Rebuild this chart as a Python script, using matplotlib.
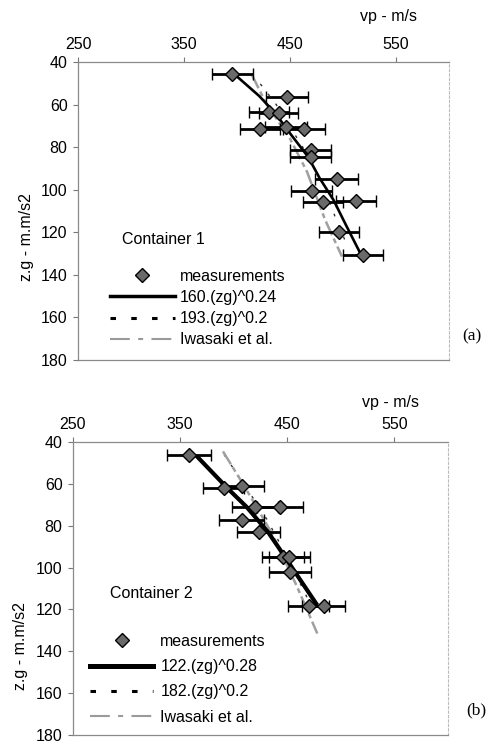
import matplotlib
matplotlib.use("Agg")
import matplotlib.pyplot as plt
from matplotlib.lines import Line2D

W, H = 489, 744

# ---------------- data: Container 1 ----------------
z_meas_1 = [45.6, 56.3, 63.5, 63.8, 71.5, 70.4, 71.5, 81.3, 84.5, 95.0, 100.4, 105.6, 105.1, 119.7, 130.6]
vp_meas_1 = [395.6, 446.9, 430.0, 439.5, 421.7, 446.5, 463.2, 469.5, 469.5, 494.0, 470.4, 481.4, 512.3, 496.5, 518.6]
err_meas_1 = [19.5, 20, 19, 18.5, 19, 20, 20, 19.5, 19.5, 20.5, 19.5, 19, 19, 19, 19]

z_fit_1 = [45.5, 56, 64, 73.5, 84.5, 94.6, 104.8, 117.3, 130.5]
vp_fit_1 = [397, 421, 436, 450, 467, 478, 491, 503.5, 517]

z_dash_1 = [46, 49, 60, 80, 95, 112.6, 127.5]
vp_dash_1 = [414, 420, 437, 462, 479, 492.5, 505]

z_iwa_1 = [46, 60, 76, 91.5, 114, 131.4]
vp_iwa_1 = [414, 428, 450, 466, 483, 499]

# ---------------- data: Container 2 ----------------
z_meas_2 = [46.3, 61.8, 61.0, 71.0, 71.0, 77.3, 83.0, 95.1, 94.9, 102.0, 118.2, 118.2]
vp_meas_2 = [358.7, 390.5, 408.0, 420.0, 443.2, 407.7, 423.2, 446.0, 452.0, 452.2, 469.9, 483.9]
err_meas_2 = [20.5, 19, 20, 21.5, 21.5, 21, 20, 20, 19.5, 19.5, 19, 20]

z_fit_2 = [46.5, 62, 71, 77, 83, 95, 102, 118]
vp_fit_2 = [365, 394, 412, 422, 432, 448, 457, 478]

z_dash_2 = [46, 62, 77, 95, 118]
vp_dash_2 = [391, 412, 431, 450, 472]

z_iwa_2 = [44.5, 62, 84, 109, 131.5]
vp_iwa_2 = [390, 411, 436, 459, 478]

x_ticks = [250, 350, 450, 550]
y_ticks = [40, 60, 80, 100, 120, 140, 160, 180]

panels = [
    dict(rect=[78, 62, 449, 360], z=z_meas_1, vp=vp_meas_1, err=err_meas_1,
         zf=z_fit_1, vf=vp_fit_1, zd=z_dash_1, vd=vp_dash_1, zi=z_iwa_1, vi=vp_iwa_1,
         labels=["measurements", "160.(zg)^0.24", "193.(zg)^0.2", "Iwasaki et al."],
         fitlw=1.9, cont="Container 1", cont_xy=(122, 239), tag="(a)", tag_xy=(472, 336),
         vp_xy=(388, 16), ylab_xy=(27, 237), leg_xy=(110, 269), hl=4.05, htp=0.33, ls=0.38),
    dict(rect=[73, 442, 448, 735], z=z_meas_2, vp=vp_meas_2, err=err_meas_2,
         zf=z_fit_2, vf=vp_fit_2, zd=z_dash_2, vd=vp_dash_2, zi=z_iwa_2, vi=vp_iwa_2,
         labels=["measurements", "122.(zg)^0.28", "182.(zg)^0.2", "Iwasaki et al."],
         fitlw=3.0, cont="Container 2", cont_xy=(110, 594), tag="(b)", tag_xy=(476, 710),
         vp_xy=(391, 403), ylab_xy=(21, 646), leg_xy=(90, 634), hl=3.95, htp=0.45, ls=0.64),
]

fig = plt.figure(figsize=(W / 100, H / 100), dpi=100)
FONT = "Liberation Sans"
FS = 11.5

for p in panels:
    x0, y0, x1, y1 = p["rect"]
    ax = fig.add_axes([x0 / W, 1 - y1 / H, (x1 - x0) / W, (y1 - y0) / H])
    ax.set_xlim(250, 600)
    ax.set_ylim(180, 40)
    ax.xaxis.tick_top()
    ax.set_xticks(x_ticks)
    ax.set_yticks(y_ticks)
    ax.tick_params(axis="both", direction="out", length=3.5, width=0.8, color="#777777",
                   labelsize=FS, pad=4)
    for lab in ax.get_xticklabels() + ax.get_yticklabels():
        lab.set_fontfamily(FONT)
    for side in ["top", "bottom", "left"]:
        ax.spines[side].set_color("#8a8a8a")
        ax.spines[side].set_linewidth(0.9)
    ax.spines["right"].set_color("#bbbbbb")
    ax.spines["right"].set_linewidth(0.8)
    ax.spines["right"].set_linestyle((0, (2, 2)))

    dash_style = (0, (1.8, 5))
    iwa_style = (0, (9.5, 4, 2.4, 4))
    # dashed fit lies mostly hidden beneath the other curves
    ax.plot(p["vd"], p["zd"], color="#333333", lw=1.0, linestyle=(0, (2, 7)), zorder=2)
    ax.plot(p["vi"], p["zi"], color="#a0a0a0", lw=1.8, linestyle=(0, (6, 1.5, 2, 1.5)), zorder=3)
    lf, = ax.plot(p["vf"], p["zf"], color="black", lw=p["fitlw"], zorder=4, solid_capstyle="butt")
    ax.errorbar(p["vp"], p["z"], xerr=p["err"], fmt="D", color="black", ecolor="black",
                elinewidth=2.0, capsize=4.3, capthick=2.0, markersize=6.8,
                markerfacecolor="#6a6a6a", markeredgecolor="black", markeredgewidth=1.0,
                zorder=5)
    mh = Line2D([], [], linestyle="none", marker="D", markersize=6.8, markerfacecolor="#6a6a6a",
                markeredgecolor="black", markeredgewidth=1.0)
    ld = Line2D([], [], color="black", lw=2.2, linestyle=dash_style)
    li = Line2D([], [], color="#9a9a9a", lw=1.5, linestyle=iwa_style)
    lfh = Line2D([], [], color="black", lw=p["fitlw"] + 0.6)

    lx, ly = p["leg_xy"]
    ax.legend([mh, lfh, ld, li], p["labels"], loc="upper left",
              bbox_to_anchor=(lx / W, 1 - ly / H), bbox_transform=fig.transFigure,
              frameon=False, borderpad=0, borderaxespad=0, handlelength=p["hl"],
              handletextpad=p["htp"], labelspacing=p["ls"],
              prop={"family": FONT, "size": FS})

    cx, cy = p["cont_xy"]
    fig.text(cx / W, 1 - cy / H, p["cont"], ha="left", va="center", fontsize=FS, family=FONT)
    tx, ty = p["tag_xy"]
    fig.text(tx / W, 1 - ty / H, p["tag"], ha="center", va="center", fontsize=12.5,
             family="Liberation Serif")
    vx, vy = p["vp_xy"]
    fig.text(vx / W, 1 - vy / H, "vp - m/s", ha="center", va="center", fontsize=FS, family=FONT)
    yx, yy = p["ylab_xy"]
    fig.text(yx / W, 1 - yy / H, "z.g - m.m/s2", ha="center", va="center", rotation=90,
             fontsize=FS, family=FONT)

fig.savefig("out.png", dpi=100)
